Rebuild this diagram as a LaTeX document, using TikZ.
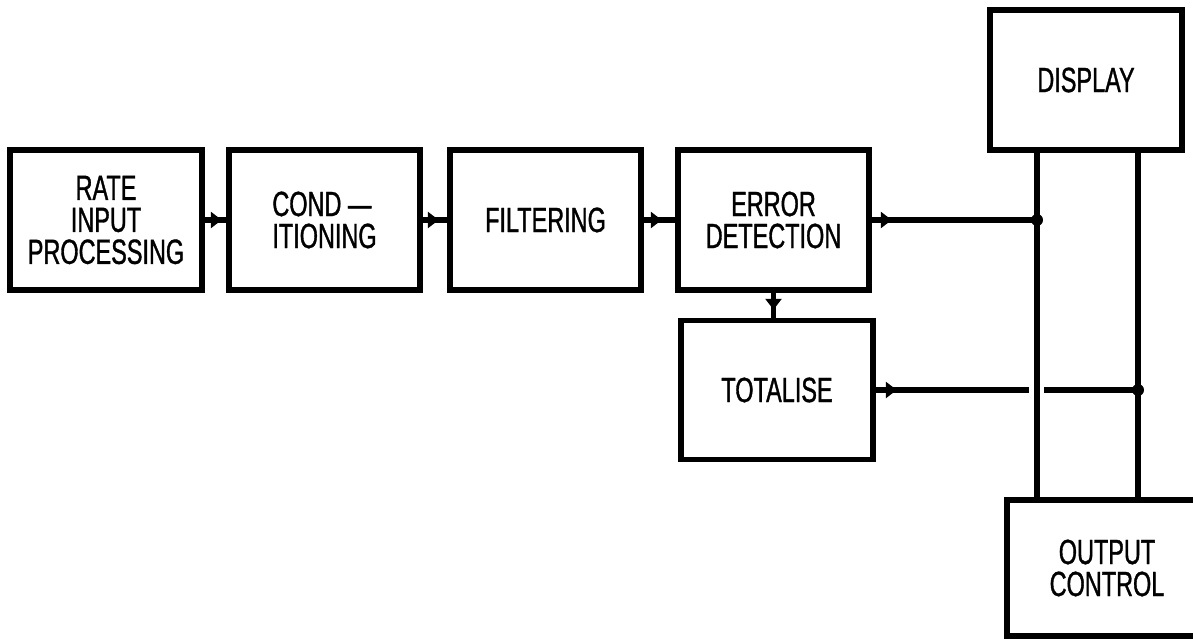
\documentclass[tikz,border=0pt]{standalone}
\usepackage{fontspec}
\setmainfont{Liberation Sans}[FakeStretch=0.67,FakeBold=1]
\usetikzlibrary{arrows.meta,decorations.markings}
\tikzset{
  blk/.style={draw, line width=5.5pt, minimum width=#1, minimum height=140pt, inner sep=0pt, align=center, font=\fontsize{35}{32}\selectfont},
  wire/.style={line width=5.5pt},
  arrowat/.style={postaction={decorate}, decoration={markings, mark=at position #1 with {\arrow{Triangle[length=11pt,width=16pt]}}}},
  jdot/.style={circle, fill, inner sep=0pt, minimum size=12pt}
}
\begin{document}
\begin{tikzpicture}[x=1pt,y=-1pt]
\useasboundingbox (0,0) rectangle (1193,639);
\clip (0,0) rectangle (1193,639);
\fill[white] (0,0) rectangle (1193,639);
\node[blk=192pt] (rate) at (106,220) {RATE\\INPUT\\PROCESSING};
\node[blk=191pt, align=left] (cond) at (324.5,220) {COND —\\ITIONING};
\node[blk=191pt] (filt) at (545.5,220) {FILTERING};
\node[blk=191pt] (err) at (773.5,220) {ERROR\\DETECTION};
\node[blk=192pt, minimum height=139pt] (tot) at (777,390) {TOTALISE};
\node[blk=192pt] (disp) at (1086,80) {DISPLAY};
\node[blk=200pt, minimum height=136pt] (out) at (1107,568) {OUTPUT\\CONTROL};
\coordinate (j1) at (1037,220);
\coordinate (j2) at (1138,390);
\coordinate (gl) at (1029,390);
\coordinate (gr) at (1044,390);
\draw[wire, arrowat=17pt] (rate) -- (cond);
\draw[wire, arrowat=16pt] (cond) -- (filt);
\draw[wire, arrowat=18pt] (filt) -- (err);
\draw[wire, arrowat=20pt] (err.east) -- (j1);
\draw[wire, arrowat=17pt] (err.south) -- (err.south |- tot.north);
\draw[wire, arrowat=21pt] (tot.east) -- (gl);
\draw[wire] (gr) -- (j2);
\draw[wire] (disp.south -| j1) -- (out.north -| j1);
\draw[wire] (disp.south -| j2) -- (out.north -| j2);
\node[jdot] (d1) at (j1) {};
\node[jdot] (d2) at (j2) {};
\end{tikzpicture}
\end{document}
